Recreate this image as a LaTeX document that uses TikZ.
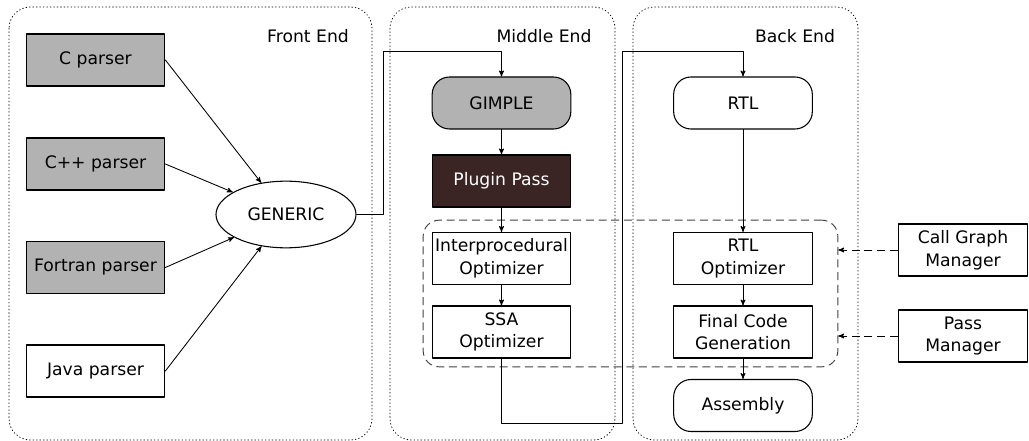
\documentclass[tikz,border=0pt]{standalone}
\usepackage{fontspec}
\setmainfont{DejaVu Sans}
\usetikzlibrary{arrows,shapes.geometric}

\begin{document}
\begin{tikzpicture}[line cap=round,line join=round,>=stealth',x=0.75pt,y=-0.75pt,
	every node/.style={font=\fontsize{12.9pt}{17pt}\selectfont},
	box/.style={draw,line width=0.8pt,minimum width=104pt,minimum height=39pt,align=center,inner sep=1pt},
	graybox/.style={box,fill=gray!60},
	roundbox/.style={box,rounded corners=13pt},
	region/.style={draw,dotted,line width=0.6pt,rounded corners=16pt},
	fleche/.style={->,line width=0.65pt},
	tirets/.style={line cap=butt,dash pattern=on 6pt off 3.5pt}]
	\useasboundingbox (0,0) rectangle (1029,441);
	% Zones
	\draw[region] (9,7) rectangle (372,440);
	\draw[region] (390,7) rectangle (615,440);
	\draw[region] (633,7) rectangle (858,440);
	\node (fe) at (308,36) {Front End};
	\node (me) at (544,36) {Middle End};
	\node (be) at (795,36) {Back End};
	\node[draw,tirets,gray!50!black,line width=0.7pt,rounded corners=12pt,minimum width=311pt,minimum height=110pt] (opt) at (630.5,293.5) {};
	% Front End
	\node[graybox] (cpar) at (95.5,60) {C parser};
	\node[graybox] (cpp) at (95.5,164) {C++ parser};
	\node[graybox] (fort) at (95.5,267.5) {Fortran parser};
	\node[box] (java) at (95.5,371) {Java parser};
	\node[draw,ellipse,line width=0.8pt,minimum width=105pt,minimum height=50pt] (generic) at (286,214.5) {GENERIC};
	\foreach \p in {cpar,cpp,fort,java}
		\draw[fleche] (\p.east) -- (generic);
	% Middle End
	\node[roundbox,fill=gray!60] (gimple) at (501.5,103) {GIMPLE};
	\node[box,fill={rgb,255:red,59;green,36;blue,36},text=white] (plugin) at (501.5,181) {Plugin Pass};
	\node[box] (inter) at (501.5,258.5) {Interprocedural\\Optimizer};
	\node[box] (ssa) at (501.5,332) {SSA\\Optimizer};
	\coordinate (j1) at (383,51);
	\draw[fleche] (generic.east) -| (j1) -| (gimple.north);
	\draw[fleche] (gimple) -- (plugin);
	\draw[fleche] (plugin) -- (inter);
	\draw[fleche] (inter) -- (ssa);
	% Back End
	\node[roundbox] (rtl) at (743,103) {RTL};
	\node[box] (rtlopt) at (743,258.5) {RTL\\Optimizer};
	\node[box] (final) at (743,332) {Final Code\\Generation};
	\node[roundbox] (asm) at (743,405.5) {Assembly};
	\coordinate (j2) at (622,423);
	\coordinate (j3) at (622,51);
	\draw[fleche] (ssa.south) |- (j2) -- (j3) -| (rtl.north);
	\draw[fleche] (rtl) -- (rtlopt);
	\draw[fleche] (rtlopt) -- (final);
	\draw[fleche] (final) -- (asm);
	% Managers
	\node[box,minimum width=97pt] (cgm) at (963,250) {Call Graph\\Manager};
	\node[box,minimum width=97pt] (pm) at (963,336) {Pass\\Manager};
	\draw[fleche,tirets] (cgm) -- (cgm -| opt.east);
	\draw[fleche,tirets] (pm) -- (pm -| opt.east);
\end{tikzpicture}
\end{document}
